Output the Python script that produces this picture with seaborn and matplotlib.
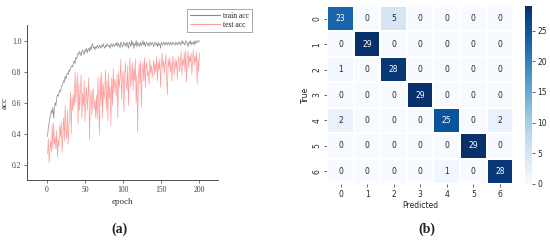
import numpy as np
import pandas as pd
from matplotlib import pyplot as plt
import seaborn as sns

# training curves
train_acc = [
    0.38, 0.44, 0.47, 0.50, 0.52, 0.55, 0.53, 0.57, 0.50, 0.56,
    0.60, 0.58, 0.63, 0.65, 0.64, 0.66, 0.68, 0.67, 0.70, 0.71,
    0.72, 0.74, 0.73, 0.77, 0.75, 0.78, 0.79, 0.78, 0.81, 0.80,
    0.82, 0.83, 0.84, 0.83, 0.86, 0.87, 0.85, 0.89, 0.88, 0.90,
    0.92, 0.91, 0.93, 0.92, 0.90, 0.93, 0.94, 0.92, 0.91, 0.94,
    0.93, 0.95, 0.92, 0.94, 0.95, 0.93, 0.96, 0.94, 0.97, 0.98,
    0.95, 0.96, 0.94, 0.96, 0.95, 0.97, 0.96, 0.95, 0.97, 0.96,
    0.95, 0.97, 0.96, 0.98, 0.96, 0.95, 0.97, 0.96, 0.98, 0.97,
    0.96, 0.97, 0.95, 0.98, 0.97, 0.96, 0.98, 0.97, 0.96, 0.98,
    0.97, 0.99, 0.96, 0.98, 0.97, 0.95, 0.99, 0.98, 0.96, 0.97,
    0.99, 0.97, 0.98, 0.96, 0.99, 0.97, 0.95, 0.99, 0.98, 0.96,
    1.00, 0.97, 0.99, 0.95, 0.98, 0.97, 1.00, 0.96, 0.99, 0.97,
    0.98, 0.96, 0.99, 0.97, 0.98, 1.00, 0.97, 0.99, 0.96, 0.98,
    0.99, 0.97, 0.98, 0.96, 0.99, 0.98, 0.97, 0.99, 0.98, 0.96,
    0.98, 0.99, 0.97, 0.98, 0.96, 0.99, 0.97, 0.98, 0.95, 0.99,
    0.98, 0.97, 0.99, 0.98, 0.97, 0.99, 0.98, 0.97, 0.99, 0.98,
    0.97, 0.99, 0.98, 0.97, 0.99, 0.98, 0.98, 0.97, 0.99, 0.98,
    0.97, 0.99, 0.98, 0.99, 0.97, 0.98, 1.00, 0.98, 0.99, 0.98,
    0.97, 1.00, 0.99, 0.98, 0.96, 0.99, 0.98, 1.00, 0.97, 0.99,
    0.98, 0.99, 0.97, 1.00, 0.98, 0.99, 1.00, 0.99, 0.99, 1.00,
]
test_acc = [
    0.27, 0.37, 0.21, 0.30, 0.35, 0.28, 0.46, 0.30, 0.47, 0.33,
    0.38, 0.30, 0.42, 0.25, 0.36, 0.32, 0.45, 0.38, 0.48, 0.28,
    0.40, 0.50, 0.35, 0.58, 0.42, 0.37, 0.55, 0.33, 0.45, 0.52,
    0.67, 0.40, 0.63, 0.55, 0.65, 0.58, 0.80, 0.60, 0.70, 0.79,
    0.46, 0.72, 0.55, 0.68, 0.78, 0.50, 0.66, 0.58, 0.74, 0.48,
    0.62, 0.70, 0.55, 0.66, 0.76, 0.36, 0.60, 0.68, 0.52, 0.65,
    0.69, 0.56, 0.62, 0.50, 0.65, 0.49, 0.76, 0.60, 0.39, 0.77,
    0.58, 0.80, 0.50, 0.72, 0.62, 0.68, 0.81, 0.55, 0.74, 0.48,
    0.79, 0.62, 0.70, 0.45, 0.76, 0.58, 0.82, 0.66, 0.75, 0.72,
    0.64, 0.78, 0.50, 0.80, 0.70, 0.76, 0.88, 0.62, 0.74, 0.80,
    0.54, 0.77, 0.86, 0.72, 0.68, 0.84, 0.58, 0.79, 0.89, 0.70,
    0.75, 0.86, 0.68, 0.82, 0.74, 0.88, 0.60, 0.78, 0.41, 0.76,
    0.85, 0.72, 0.87, 0.57, 0.80, 0.86, 0.74, 0.89, 0.70, 0.83,
    0.86, 0.77, 0.80, 0.72, 0.88, 0.79, 0.84, 0.76, 0.82, 0.87,
    0.78, 0.85, 0.80, 0.90, 0.74, 0.86, 0.81, 0.88, 0.70, 0.84,
    0.92, 0.82, 0.87, 0.79, 0.85, 0.91, 0.76, 0.65, 0.88, 0.83,
    0.89, 0.80, 0.86, 0.74, 0.90, 0.84, 0.78, 0.88, 0.82, 0.87,
    0.75, 0.86, 0.90, 0.80, 0.85, 0.93, 0.78, 0.88, 0.84, 0.92,
    0.80, 0.94, 0.73, 0.88, 0.93, 0.82, 0.90, 0.86, 0.92, 0.78,
    0.88, 0.94, 0.84, 0.90, 0.86, 0.93, 0.72, 0.89, 0.80, 0.92,
]
epochs = list(range(1, len(train_acc) + 1))

# confusion matrix of panel (b)
class_labels = ['0', '1', '2', '3', '4', '5', '6']
conf_matrix = [
    [23, 0, 5, 0, 0, 0, 0],
    [0, 29, 0, 0, 0, 0, 0],
    [1, 0, 28, 0, 0, 0, 0],
    [0, 0, 0, 29, 0, 0, 0],
    [2, 0, 0, 0, 25, 0, 2],
    [0, 0, 0, 0, 0, 29, 0],
    [0, 0, 0, 0, 1, 0, 28],
]

sns.set_style("ticks")
fig = plt.figure(figsize=(5.5, 2.43), dpi=100)

# ---- panel (a): accuracy curves ----
ax = fig.add_axes([0.049, 0.259, 0.347, 0.638])
curves = pd.DataFrame({'epoch': epochs * 2,
                       'acc': train_acc + test_acc,
                       'kind': ['train acc'] * len(train_acc)
                       + ['test acc'] * len(test_acc)})
sns.lineplot(data=curves, x='epoch', y='acc', hue='kind',
             palette={'train acc': '#8a8a8a', 'test acc': '#ff9c9c'},
             linewidth=0.5, ax=ax)
ax.set_xlim(-26, 224)
ax.set_ylim(0.1, 1.1)
ax.set_xticks([0, 50, 100, 150, 200])
ax.set_yticks([0.2, 0.4, 0.6, 0.8, 1.0])
ax.set_yticklabels(['0.2', '0.4', '0.6', '0.8', '1.0'])
sns.despine(ax=ax)
for s in ax.spines.values():
    s.set_linewidth(0.6)
    s.set_color('#333333')
ax.tick_params(labelsize=5.5, length=2, width=0.5, colors='#444444',
               pad=2)
for lab in ax.get_xticklabels() + ax.get_yticklabels():
    lab.set_family('Liberation Serif')
ax.set_xlabel('epoch', fontsize=6.5, family='Liberation Serif',
              color='#333333', labelpad=3)
ax.set_ylabel('acc', fontsize=6.5, family='Liberation Serif',
              color='#333333', labelpad=2)
leg = ax.legend(title=None, loc='upper left',
                bbox_to_anchor=(0.838, 1.103), borderaxespad=0,
                fancybox=False,
                prop={'family': 'Liberation Serif', 'size': 5.5},
                handlelength=4.0, borderpad=0.35, labelspacing=0.15,
                handletextpad=0.4)
leg.get_frame().set_edgecolor('#666666')
leg.get_frame().set_linewidth(0.5)
for line in leg.get_lines():
    line.set_linewidth(0.8)
fig.text(0.218, 0.055, '(a)', ha='center', va='center', fontsize=10,
         fontweight='bold', family='Liberation Serif')

# ---- panel (b): confusion matrix ----
hax = fig.add_axes([0.595, 0.243, 0.338, 0.732])
cax = fig.add_axes([0.955, 0.243, 0.013, 0.732])
cm = pd.DataFrame(conf_matrix, index=class_labels, columns=class_labels)
sns.heatmap(cm, annot=True, fmt='d', cmap='Blues', vmin=0, vmax=29,
            linewidths=0.3, linecolor='white', ax=hax, cbar_ax=cax,
            annot_kws={'size': 5.5})
hax.set_xlabel('Predicted', fontsize=5.5, labelpad=2)
hax.set_ylabel('True', fontsize=5.5, labelpad=2)
hax.tick_params(labelsize=5.5, length=2, width=0.5, pad=2)
plt.setp(hax.get_yticklabels(), rotation=90, va='center')
cax.tick_params(labelsize=5.5, length=2, width=0.5, pad=1.5)
cax.set_yticks([0, 5, 10, 15, 20, 25])
fig.text(0.776, 0.055, '(b)', ha='center', va='center', fontsize=10,
         fontweight='bold', family='Liberation Serif')

plt.savefig('out.png', dpi=100)
